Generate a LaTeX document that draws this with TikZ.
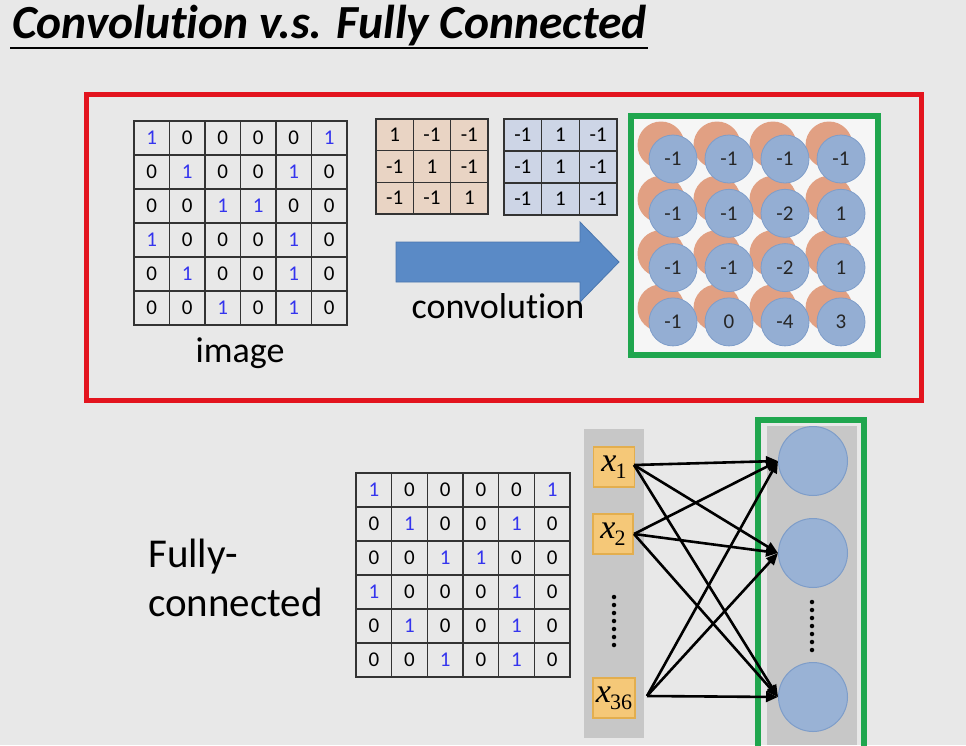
\documentclass[tikz,border=0pt]{standalone}
\usepackage{fontspec}
\setmainfont{Carlito}[RawFeature={-liga;-clig;-dlig;-calt}]
\newfontfamily\xfont{Liberation Serif}
\usetikzlibrary{arrows.meta}
\definecolor{bg}{HTML}{E8E8E8}
\definecolor{numblue}{HTML}{3434EE}
\definecolor{redbox}{HTML}{E3141E}
\definecolor{greenbox}{HTML}{1FA64E}
\definecolor{tanf}{HTML}{E9D4C4}
\definecolor{bluef}{HTML}{CDD5E6}
\definecolor{arrowblue}{HTML}{5A8AC6}
\definecolor{arrowedge}{HTML}{4A76AE}
\definecolor{orangec}{HTML}{E1A083}
\definecolor{bluec}{HTML}{94AED3}
\definecolor{bluecedge}{HTML}{7E9DC9}
\definecolor{goldf}{HTML}{F5C878}
\definecolor{golde}{HTML}{E3AE4E}
\definecolor{colgray}{HTML}{C7C7C7}
\newcommand\numcol[1]{\ifnum#1=1 \textcolor{numblue}{#1}\else #1\fi}
\newcommand\plainnum[1]{#1}
\newcommand\xvar[1]{{\xfont\itshape x}\kern-1pt{\xfont\raisebox{-7pt}{\fontsize{22}{22}\selectfont #1}}}
\newcommand\mymatrix[8]{%
  \foreach \row [count=\r] in {#7} {
    \foreach \v [count=\c] in \row {
      \node[cellnum] (#6-\r-\c) at ({#1+(\c-0.5)*#3},{#2+(\r-0.5)*#4}) {#8{\v}};
    }
  }
  \foreach \i in {0,...,#5} {
    \draw[gridln] ({#1+\i*#3},#2) -- ({#1+\i*#3},{#2+#5*#4});
    \draw[gridln] (#1,{#2+\i*#4}) -- ({#1+#5*#3},{#2+\i*#4});
  }
}
\begin{document}
\begin{tikzpicture}[x=1pt,y=-1pt,
  cellnum/.style={font=\fontsize{21}{21}\selectfont, inner sep=0pt},
  gridln/.style={line width=1.6pt, draw=black!80, line cap=rect},
  lbl/.style={font=\fontsize{36}{38}\selectfont, inner sep=0pt},
  orangedot/.style={circle, fill=orangec, minimum size=47pt, inner sep=0pt},
  bluedot/.style={circle, fill=bluec, draw=bluecedge, line width=0.8pt, minimum size=48pt, inner sep=0pt, font=\fontsize{21}{21}\selectfont, text=black!85},
  hid/.style={circle, fill=bluec!95!white, draw=bluecedge, line width=1pt, minimum size=69pt, inner sep=0pt},
  xbox/.style={rectangle, fill=goldf, draw=golde, line width=1.2pt, minimum width=41pt, minimum height=40pt, inner sep=0pt, font=\fontsize{34}{34}\selectfont},
  conn/.style={line width=2.6pt, -{Triangle[length=12pt,width=10pt]}},
  dotsty/.style={circle, fill=black, minimum size=4.5pt, inner sep=0pt}
]
\fill[bg] (0,0) rectangle (966,745);
\useasboundingbox (0,0) rectangle (966,745);

% title
\node[anchor=base west, inner sep=0pt, font=\fontsize{47.5}{52}\selectfont\bfseries\itshape] (title) at (12,38) {Convolution v.s. Fully Connected};
\draw[line width=2pt] (title.base west) ++(-2,10) -- ++(638,0);

% red box
\draw[redbox, line width=5pt] (86,94) rectangle (921,400);

% top image matrix
\mymatrix{134}{121}{35.5}{34}{6}{ma}{{1,0,0,0,0,1},{0,1,0,0,1,0},{0,0,1,1,0,0},{1,0,0,0,1,0},{0,1,0,0,1,0},{0,0,1,0,1,0}}{\numcol}
\node[lbl, anchor=base] (imglbl) at (240,362) {image};

% filters
\fill[tanf] (376,119) rectangle (488,214);
\mymatrix{376}{119}{37.33}{31.67}{3}{fa}{{1,-1,-1},{-1,1,-1},{-1,-1,1}}{\plainnum}
\fill[bluef] (504,119) rectangle (617,215);
\mymatrix{504}{119}{37.67}{32}{3}{fb}{{-1,1,-1},{-1,1,-1},{-1,1,-1}}{\plainnum}

% big arrow
\draw[fill=arrowblue, draw=arrowedge, line width=0.8pt] (396,242) -- (580,242) -- (580,222) -- (619,262) -- (580,302) -- (580,282) -- (396,282) -- cycle;
\node[lbl, anchor=base] (convlbl) at (498,318) {convolution};

% green box top
\fill[white!60!bg] (634,119) rectangle (875,352);
\draw[greenbox, line width=6pt] (631,116) rectangle (878,355);
\foreach \r in {1,...,4} {
  \foreach \c in {1,...,4} {
    \pgfmathsetmacro\cx{673+(\c-1)*56}
    \pgfmathsetmacro\cy{159+(\r-1)*54.3}
    \node[orangedot] (o-\r-\c) at (\cx-12,\cy-14) {};
  }
}
\foreach \vals [count=\r] in {{-1,-1,-1,-1},{-1,-1,-2,1},{-1,-1,-2,1},{-1,0,-4,3}} {
  \foreach \v [count=\c] in \vals {
    \pgfmathsetmacro\cx{673+(\c-1)*56}
    \pgfmathsetmacro\cy{159+(\r-1)*54.3}
    \node[bluedot] (b-\r-\c) at (\cx,\cy) {\v};
  }
}

% bottom part
\node[lbl, anchor=base west, font=\fontsize{41}{45}\selectfont] (fclbl) at (148,567) {Fully-};
\node[lbl, anchor=base west, font=\fontsize{41}{45}\selectfont] (fclbl2) at (148,616) {connected};

\mymatrix{356}{473}{35.67}{34}{6}{mb}{{1,0,0,0,0,1},{0,1,0,0,1,0},{0,0,1,1,0,0},{1,0,0,0,1,0},{0,1,0,0,1,0},{0,0,1,0,1,0}}{\numcol}

% input column
\fill[colgray] (584,429) rectangle (644,738);
\node[xbox] (x1) at (614,467) {\xvar{1}};
\node[xbox, minimum width=40pt] (x2) at (613,534) {\xvar{2}};
\node[xbox, minimum width=42pt] (x36) at (614,698) {\xvar{36}};
\foreach \k in {0,...,6} { \node[dotsty] (ld\k) at (614,{597+\k*8}) {}; }

% hidden layer
\fill[colgray] (767,426) rectangle (857,745);
\draw[greenbox, line width=6pt] (758,420) rectangle (864,752);
\node[hid] (h1) at (813,461) {};
\node[hid] (h2) at (813,553) {};
\node[hid] (h3) at (813,697) {};
\foreach \k in {0,...,6} { \node[dotsty] (rd\k) at (812,{602+\k*8}) {}; }

% connections
\coordinate (s1) at (634,465);
\coordinate (s2) at (634,534);
\coordinate (s3) at (647,696);
\foreach \s in {s1,s2,s3} {
  \foreach \h in {h1,h2,h3} {
    \draw[conn] (\s) -- (\h.west);
  }
}
\end{tikzpicture}
\end{document}
